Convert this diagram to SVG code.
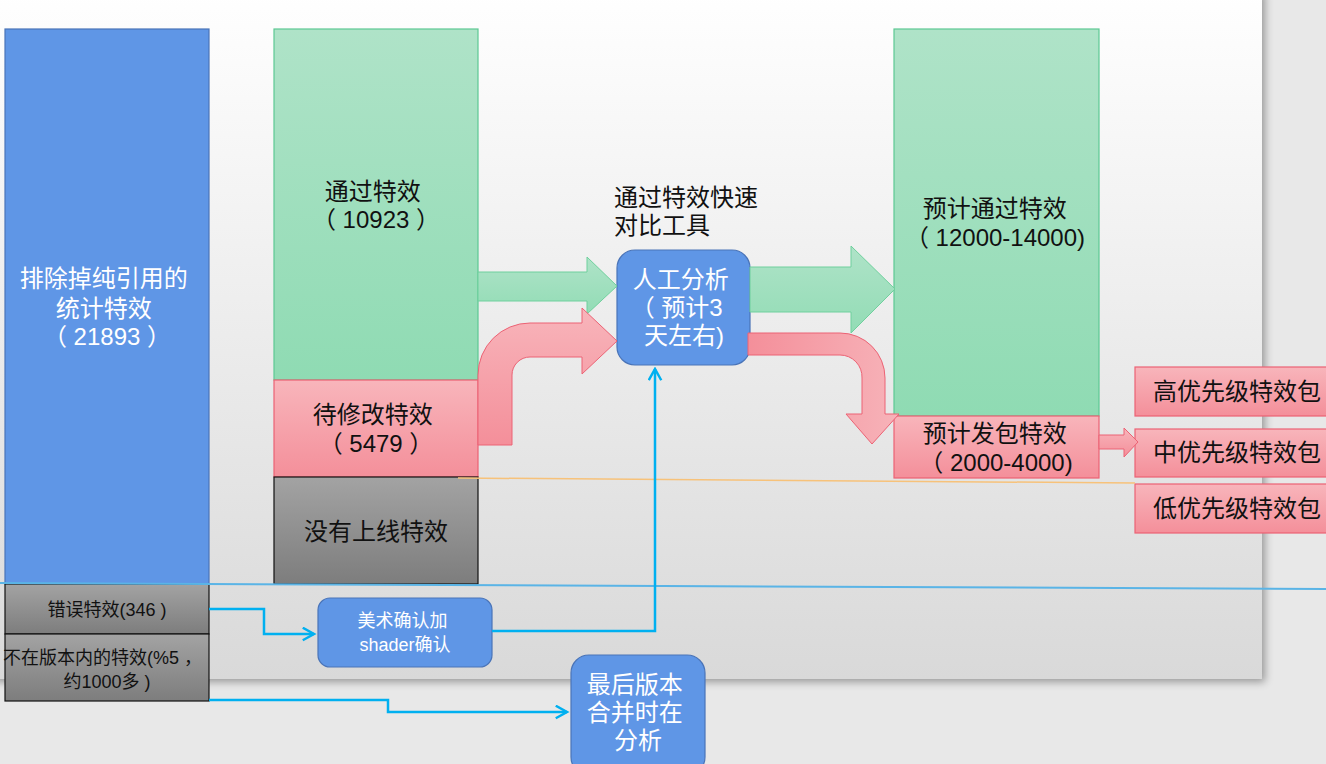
<svg xmlns="http://www.w3.org/2000/svg" width="1326" height="764" viewBox="0 0 1326 764">
  <defs>
    <linearGradient id="slideBg" x1="0" y1="0" x2="0" y2="1">
      <stop offset="0" stop-color="#ffffff"/>
      <stop offset="1" stop-color="#d9d9d9"/>
    </linearGradient>
    <linearGradient id="greenFill" x1="0" y1="0" x2="0" y2="1">
      <stop offset="0" stop-color="#afe3c8"/>
      <stop offset="1" stop-color="#8fdbb3"/>
    </linearGradient>
    <linearGradient id="pinkFill" x1="0" y1="0" x2="0" y2="1">
      <stop offset="0" stop-color="#f8b5bb"/>
      <stop offset="1" stop-color="#f48f9a"/>
    </linearGradient>
    <linearGradient id="grayFill" x1="0" y1="0" x2="0" y2="1">
      <stop offset="0" stop-color="#a3a3a3"/>
      <stop offset="1" stop-color="#7d7d7d"/>
    </linearGradient>
    <linearGradient id="greenArrowFill" x1="0" y1="0" x2="0" y2="1">
      <stop offset="0" stop-color="#afe3c8"/>
      <stop offset="1" stop-color="#92dcb5"/>
    </linearGradient>
    <linearGradient id="pinkArrowFill" x1="0" y1="0" x2="1" y2="0">
      <stop offset="0" stop-color="#f48f9a"/>
      <stop offset="1" stop-color="#f7b3b9"/>
    </linearGradient>
    <filter id="slideShadow" x="-5%" y="-5%" width="110%" height="110%">
      <feGaussianBlur in="SourceAlpha" stdDeviation="4"/>
      <feOffset dx="3" dy="3"/>
      <feComponentTransfer><feFuncA type="linear" slope="0.35"/></feComponentTransfer>
      <feMerge><feMergeNode/><feMergeNode in="SourceGraphic"/></feMerge>
    </filter>
    <marker id="blueHead" viewBox="0 0 12 12" refX="10" refY="6" markerWidth="6" markerHeight="6" markerUnits="strokeWidth" orient="auto">
      <path d="M1,1 L10,6 L1,11" fill="none" stroke="#00b0f0" stroke-width="2"/>
    </marker>
    <style>
      .cjk { font-family: "Liberation Sans", "Noto Sans CJK SC", sans-serif; }
      .lg { font-size: 24px; }
      .sm { font-size: 18px; }
      .dark { fill: #111111; }
      .light { fill: #ffffff; }
      .blueBox { fill: #5f96e6; stroke: #4a74b8; stroke-width: 1.2; }
      .greenBox { fill: url(#greenFill); stroke: #5dc893; stroke-width: 1.2; }
      .pinkBox { fill: url(#pinkFill); stroke: #ec6274; stroke-width: 1.2; }
      .grayBox { fill: url(#grayFill); stroke: #111111; stroke-width: 1.2; }
      .link { fill: none; stroke: #00b0f0; stroke-width: 2.5; }
    </style>
  </defs>

  <!-- canvas and slide -->
  <rect x="0" y="0" width="1326" height="764" fill="#e8e8e8"/>
  <rect x="-10" y="-10" width="1272" height="689" fill="url(#slideBg)" filter="url(#slideShadow)"/>

  <!-- left column -->
  <g id="total">
    <rect class="blueBox" x="5" y="29" width="204" height="555"/>
    <text class="cjk lg light" text-anchor="middle">
      <tspan x="107" y="287">排除掉纯引用的</tspan>
      <tspan x="107" y="317">统计特效</tspan>
      <tspan x="107" y="345">（ 21893 ）</tspan>
    </text>
  </g>
  <g id="error">
    <rect class="grayBox" x="5" y="584" width="204" height="50"/>
    <text class="cjk sm dark" x="107" y="616" text-anchor="middle">错误特效(346 )</text>
  </g>
  <g id="outOfVersion">
    <rect class="grayBox" x="5" y="634" width="204" height="67"/>
    <text class="cjk sm dark" text-anchor="middle">
      <tspan x="105" y="664">不在版本内的特效(%5 ，</tspan>
      <tspan x="107" y="688">约1000多 )</tspan>
    </text>
  </g>

  <!-- middle column -->
  <g id="passed">
    <rect class="greenBox" x="274" y="29" width="204" height="351"/>
    <text class="cjk lg dark" text-anchor="middle">
      <tspan x="376" y="200">通过特效</tspan>
      <tspan x="376" y="228">（ 10923 ）</tspan>
    </text>
  </g>
  <g id="toFix">
    <rect class="pinkBox" x="274" y="380" width="204" height="97"/>
    <text class="cjk lg dark" text-anchor="middle">
      <tspan x="376" y="423">待修改特效</tspan>
      <tspan x="376" y="452">（ 5479 ）</tspan>
    </text>
  </g>
  <g id="notOnline">
    <rect class="grayBox" x="274" y="477" width="204" height="107"/>
    <text class="cjk lg dark" x="376" y="540" text-anchor="middle">没有上线特效</text>
  </g>

  <!-- tool label -->
  <g id="toolLabel">
    <text class="cjk lg dark">
      <tspan x="614" y="206">通过特效快速</tspan>
      <tspan x="614" y="234">对比工具</tspan>
    </text>
  </g>

  <!-- right column -->
  <g id="expectedPass">
    <rect class="greenBox" x="894" y="29" width="205" height="387"/>
    <text class="cjk lg dark" text-anchor="middle">
      <tspan x="998" y="217">预计通过特效</tspan>
      <tspan x="995" y="246">（ 12000-14000)</tspan>
    </text>
  </g>
  <g id="expectedPack">
    <rect class="pinkBox" x="894" y="416" width="205" height="62"/>
    <text class="cjk lg dark" text-anchor="middle">
      <tspan x="998" y="442">预计发包特效</tspan>
      <tspan x="996" y="471">（ 2000-4000)</tspan>
    </text>
  </g>

  <!-- priority packages -->
  <g id="highPriority">
    <rect class="pinkBox" x="1135" y="367" width="200" height="49"/>
    <text class="cjk lg dark" x="1153" y="400">高优先级特效包</text>
  </g>
  <g id="midPriority">
    <rect class="pinkBox" x="1135" y="429" width="200" height="48"/>
    <text class="cjk lg dark" x="1153" y="461">中优先级特效包</text>
  </g>
  <g id="lowPriority">
    <rect class="pinkBox" x="1135" y="484" width="200" height="49"/>
    <text class="cjk lg dark" x="1153" y="517">低优先级特效包</text>
  </g>

  <!-- process nodes -->
  <g id="manualAnalysis">
    <rect class="blueBox" x="617" y="250" width="133" height="115" rx="18"/>
    <text class="cjk lg light" text-anchor="middle">
      <tspan x="684" y="288">人工分析</tspan>
      <tspan x="680" y="316">（ 预计3</tspan>
      <tspan x="684" y="344">天左右)</tspan>
    </text>
  </g>
  <g id="artReview">
    <rect class="blueBox" x="318" y="598" width="174" height="69" rx="12"/>
    <text class="cjk sm light" text-anchor="middle">
      <tspan x="405" y="627">美术确认加</tspan>
      <tspan x="405" y="651">shader确认</tspan>
    </text>
  </g>
  <g id="finalMerge">
    <rect class="blueBox" x="571" y="655" width="134" height="120" rx="18"/>
    <text class="cjk lg light" text-anchor="middle">
      <tspan x="638" y="693">最后版本</tspan>
      <tspan x="638" y="721">合并时在</tspan>
      <tspan x="638" y="749">分析</tspan>
    </text>
  </g>

  <!-- connectors -->
  <g id="connectors">
    <!-- divider lines -->
    <line x1="0" y1="583" x2="1326" y2="589" stroke="#5ab4e6" stroke-width="2"/>
    <line x1="458" y1="478" x2="1135" y2="483" stroke="#f7c27a" stroke-width="1.5"/>

    <!-- block arrows -->
    <path d="M478,272 H587 V257 L617,286 L587,314 V301 H478 Z" fill="url(#greenArrowFill)" stroke="#6fd09d" stroke-width="1"/>
    <path d="M478,445 V375 A52,52 0 0 1 530,323 H582 V308 L617,341 L582,374 V357 H530 A18,18 0 0 0 512,375 V445 Z" fill="url(#pinkFill)" stroke="#ec6274" stroke-width="1"/>
    <path d="M750,267 H851 V246 L895,289 L851,333 V312 H750 Z" fill="url(#greenArrowFill)" stroke="#6fd09d" stroke-width="1"/>
    <path d="M748,333 H840 A45,45 0 0 1 885,378 V414 H899 L872,444 L846,414 H862 V378 A22,22 0 0 0 840,355 H748 Z" fill="url(#pinkArrowFill)" stroke="#ec6274" stroke-width="1"/>
    <path d="M1099,435 H1124 V428 L1138,442 L1124,457 V449 H1099 Z" fill="url(#pinkFill)" stroke="#ec6274" stroke-width="1"/>

    <!-- flow links -->
    <polyline class="link" points="209,609 264,609 264,634 314,634" marker-end="url(#blueHead)"/>
    <polyline class="link" points="492,631 655,631 655,369" marker-end="url(#blueHead)"/>
    <polyline class="link" points="209,700 388,700 388,712 567,712" marker-end="url(#blueHead)"/>
  </g>
</svg>
